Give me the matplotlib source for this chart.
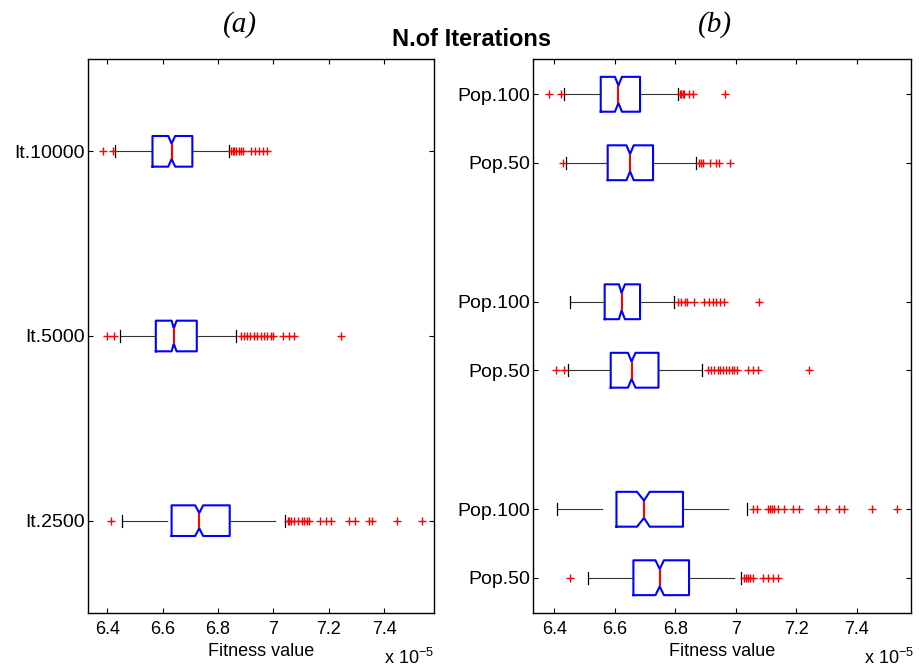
import matplotlib
matplotlib.use('Agg')
import matplotlib.pyplot as plt
from matplotlib.ticker import FuncFormatter

plt.rcParams['font.family'] = ['Liberation Sans', 'DejaVu Sans']
plt.rcParams['mathtext.fontset'] = 'custom'
plt.rcParams['mathtext.rm'] = 'Liberation Sans'
plt.rcParams['mathtext.it'] = 'Liberation Sans:italic'
plt.rcParams['mathtext.bf'] = 'Liberation Sans:bold'

# all fitness values are in units of 1e-5
# (a) number of iterations, bottom to top
it_labels = ['It.2500', 'It.5000', 'It.10000']
it_pos = [1, 2, 3]
it_q1 = [6.632, 6.575, 6.563]
it_med = [6.732, 6.640, 6.632]
it_q3 = [6.842, 6.723, 6.707]
it_cilo = [6.717, 6.632, 6.620]
it_cihi = [6.746, 6.650, 6.645]
it_whislo = [6.452, 6.447, 6.429]
it_whishi = [7.041, 6.863, 6.841]
it_fliers = [
    [6.412, 7.051, 7.056, 7.063, 7.075, 7.087, 7.102, 7.112, 7.120, 7.129,
     7.169, 7.189, 7.209, 7.272, 7.296, 7.345, 7.355, 7.448, 7.536],
    [6.400, 6.425, 6.881, 6.893, 6.905, 6.917, 6.930, 6.942, 6.954, 6.966,
     6.978, 6.990, 6.999, 7.035, 7.056, 7.075, 7.245],
    [6.385, 6.420, 6.847, 6.853, 6.859, 6.865, 6.874, 6.881, 6.890,
     6.920, 6.934, 6.946, 6.962, 6.977],
]

# (b) population size, bottom to top
pop_labels = ['Pop.50', 'Pop.100', 'Pop.50', 'Pop.100', 'Pop.50', 'Pop.100']
pop_pos = [1, 1.33, 2, 2.33, 3, 3.33]
pop_q1 = [6.662, 6.606, 6.587, 6.567, 6.577, 6.554]
pop_med = [6.749, 6.697, 6.656, 6.623, 6.651, 6.6125]
pop_q3 = [6.846, 6.826, 6.745, 6.684, 6.727, 6.684]
pop_cilo = [6.735, 6.674, 6.644, 6.614, 6.639, 6.601]
pop_cihi = [6.763, 6.716, 6.669, 6.634, 6.663, 6.624]
pop_whislo = [6.511, 6.410, 6.446, 6.452, 6.440, 6.433]
pop_whishi = [7.018, 7.038, 6.888, 6.796, 6.869, 6.811]
pop_fliers = [
    [6.454, 7.029, 7.035, 7.040, 7.046, 7.057, 7.090, 7.106, 7.123, 7.139],
    [7.057, 7.070, 7.106, 7.114, 7.121, 7.128, 7.139, 7.161, 7.189, 7.211,
     7.271, 7.299, 7.343, 7.359, 7.451, 7.533],
    [6.406, 6.432, 6.908, 6.919, 6.930, 6.941, 6.949, 6.958, 6.967, 6.978,
     6.989, 6.996, 7.004, 7.040, 7.057, 7.073, 7.244],
    [6.809, 6.820, 6.831, 6.839, 6.864, 6.897, 6.912, 6.925, 6.936, 6.949,
     6.960, 7.076],
    [6.430, 6.880, 6.885, 6.892, 6.914, 6.936, 6.945, 6.980],
    [6.383, 6.422, 6.815, 6.820, 6.825, 6.830, 6.846, 6.859, 6.964],
]

x_ticks = [6.4, 6.6, 6.8, 7.0, 7.2, 7.4]


def make_stats(q1, med, q3, cilo, cihi, wlo, whi, fl):
    out = []
    for i in range(len(med)):
        out.append(dict(q1=q1[i], med=med[i], q3=q3[i], cilo=cilo[i], cihi=cihi[i],
                        whislo=wlo[i], whishi=whi[i], fliers=fl[i]))
    return out


def draw_panel(ax, stats, pos, labels, width, capw, ylim):
    wlw = 0.8
    res = ax.bxp(stats, positions=pos, widths=width, orientation='horizontal',
                 shownotches=True, manage_ticks=False, capwidths=capw,
                 boxprops=dict(color='#0000ff', lw=1.5),
                 medianprops=dict(color='#ff0000', lw=1.5),
                 whiskerprops=dict(color='#333333', lw=wlw,
                                   linestyle=(0, (32.9 / wlw, 14.4 / wlw))),
                 capprops=dict(color='black', lw=0.9),
                 flierprops=dict(marker='+', markeredgecolor='#ff0000',
                                 markersize=6, markeredgewidth=1.0, linestyle='none'))
    # matlab draws the lower whisker from the cap to the box
    for w in res['whiskers'][::2]:
        xd, yd = w.get_data()
        w.set_data(list(xd)[::-1], list(yd)[::-1])
    ax.set_xlim(6.33, 7.58)
    ax.set_ylim(ylim)
    ax.set_yticks(pos)
    ax.set_yticklabels(labels, fontsize=14)
    ax.set_xticks(x_ticks)
    ax.xaxis.set_major_formatter(FuncFormatter(lambda v, p: '%g' % round(v, 2)))
    ax.tick_params(axis='x', labelsize=13, pad=6)
    ax.tick_params(direction='in', length=3.6, width=0.8, top=True, right=True)
    ax.tick_params(axis='y', pad=2)
    for s in ax.spines.values():
        s.set_linewidth(1.0)
    ax.set_xlabel('Fitness value', fontsize=13, labelpad=3)


fig = plt.figure(figsize=(9.19, 6.71), dpi=100)
H = 671.0
W = 919.0
ax1 = fig.add_axes([88 / W, 58 / H, 346 / W, 554 / H])
ax2 = fig.add_axes([533 / W, 58 / H, 378 / W, 554 / H])

draw_panel(ax1, make_stats(it_q1, it_med, it_q3, it_cilo, it_cihi, it_whislo, it_whishi, it_fliers),
           it_pos, it_labels, 0.166, 0.065, (0.5, 3.5))
draw_panel(ax2, make_stats(pop_q1, pop_med, pop_q3, pop_cilo, pop_cihi, pop_whislo, pop_whishi, pop_fliers),
           pop_pos, pop_labels, 0.168, 0.058, (0.83, 3.5))

fig.text(240 / W, 1 - 25 / H, '(a)', family='Liberation Serif', style='italic',
         fontsize=21, ha='center', va='center')
fig.text(715 / W, 1 - 25 / H, '(b)', family='Liberation Serif', style='italic',
         fontsize=21, ha='center', va='center')
fig.text(472 / W, 1 - 40 / H, 'N.of Iterations', fontsize=17, fontweight='bold',
         ha='center', va='center')
fig.text(434 / W, 1 - 664 / H, r'x 10$^{-5}$', fontsize=13, ha='right', va='baseline')
fig.text(914 / W, 1 - 664 / H, r'x 10$^{-5}$', fontsize=13, ha='right', va='baseline')

plt.savefig('out.png', dpi=100)
